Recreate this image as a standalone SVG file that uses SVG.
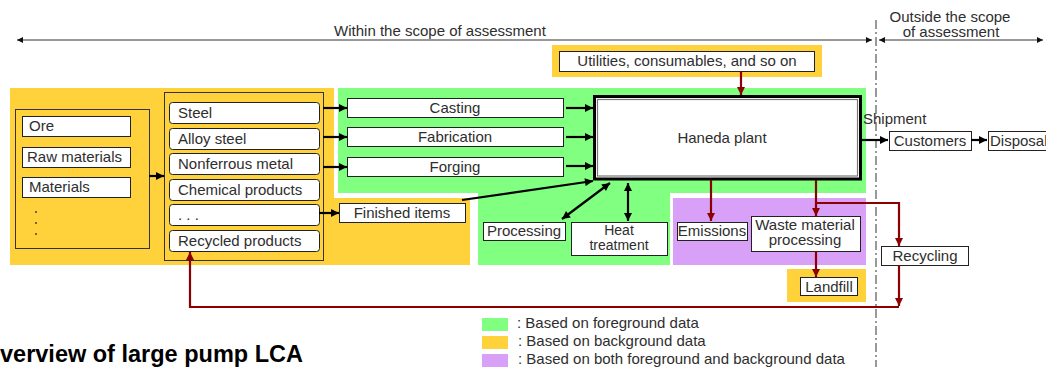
<svg xmlns="http://www.w3.org/2000/svg" width="1046" height="367" viewBox="0 0 1046 367">
  <style>
    text { font-family: "Liberation Sans", Arial, sans-serif; font-size: 15px; fill: #2e2e2e; }
    .c { text-anchor: middle; }
    .sm { font-size: 14px; }
    .box { fill: #fff; stroke: #222; stroke-width: 1; }
    .frame { fill: none; stroke: #333; stroke-width: 1; }
    .blk { fill: none; stroke: #000; stroke-width: 2.2; }
    .red { fill: none; stroke: #8b0000; stroke-width: 2.2; }
    .scope { fill: none; stroke: #333; stroke-width: 1; }
    .title { font-weight: bold; font-size: 23.5px; fill: #000; }
  </style>
  <defs>
    <marker id="ab" viewBox="0 0 10 10" refX="10" refY="5" markerWidth="9" markerHeight="8" markerUnits="userSpaceOnUse" orient="auto-start-reverse">
      <path d="M0,0 L10,5 L0,10 z" fill="#000"/>
    </marker>
    <marker id="ar" viewBox="0 0 10 10" refX="10" refY="5" markerWidth="9" markerHeight="8" markerUnits="userSpaceOnUse" orient="auto-start-reverse">
      <path d="M0,0 L10,5 L0,10 z" fill="#8b0000"/>
    </marker>
    <marker id="as" viewBox="0 0 10 10" refX="10" refY="5" markerWidth="8" markerHeight="6" markerUnits="userSpaceOnUse" orient="auto-start-reverse">
      <path d="M0,0 L10,5 L0,10 z" fill="#111"/>
    </marker>
  </defs>

  <!-- data-source regions -->
  <g id="regions">
    <polygon points="338,88 866,88 866,193 670,193 670,265 478,265 478,193 338,193" fill="#80ff80"/>
    <polygon points="10,88 334,88 334,198 470,198 470,265 10,265" fill="#ffd23c"/>
    <rect x="673" y="198" width="193" height="67" fill="#d9a0f8"/>
    <rect x="787" y="269" width="79" height="33" fill="#ffd23c"/>
    <rect x="552" y="45" width="270" height="32" fill="#ffd23c"/>
  </g>

  <!-- scope of assessment -->
  <g id="scope">
    <path class="scope" d="M17,40 H872" marker-start="url(#as)" marker-end="url(#as)"/>
    <path class="scope" d="M879,40 H1043" marker-start="url(#as)" marker-end="url(#as)"/>
    <path d="M876,20 V367" fill="none" stroke="#333" stroke-width="1" stroke-dasharray="9 3 2 3"/>
    <text class="c" x="440" y="36">Within the scope of assessment</text>
    <text class="c" x="950" y="22">Outside the scope</text>
    <text class="c" x="951" y="37">of assessment</text>
  </g>

  <!-- raw inputs -->
  <g id="raw-inputs">
    <rect class="frame" x="15.5" y="109.5" width="134" height="139"/>
    <rect class="box" x="22.5" y="116.5" width="108" height="20"/>
    <text x="29" y="131">Ore</text>
    <rect class="box" x="22.5" y="147.5" width="108" height="20"/>
    <text x="27" y="162">Raw materials</text>
    <rect class="box" x="22.5" y="177.5" width="108" height="20"/>
    <text x="29" y="192">Materials</text>
    <circle cx="36" cy="212" r="0.9" fill="#333"/>
    <circle cx="36" cy="223" r="0.9" fill="#333"/>
    <circle cx="36" cy="234" r="0.9" fill="#333"/>
  </g>

  <!-- purchased materials -->
  <g id="materials">
    <rect class="frame" x="164.5" y="92.5" width="159" height="168"/>
    <rect class="box" x="169.5" y="102.5" width="150" height="21" rx="3"/>
    <text x="178" y="118">Steel</text>
    <rect class="box" x="169.5" y="128.5" width="150" height="21" rx="3"/>
    <text x="178" y="144">Alloy steel</text>
    <rect class="box" x="169.5" y="153.5" width="150" height="21" rx="3"/>
    <text x="178" y="169">Nonferrous metal</text>
    <rect class="box" x="169.5" y="179.5" width="150" height="21" rx="3"/>
    <text x="178" y="195">Chemical products</text>
    <rect class="box" x="169.5" y="204.5" width="150" height="21" rx="3"/>
    <text x="178" y="220">. . .</text>
    <rect class="box" x="169.5" y="230.5" width="150" height="21" rx="3"/>
    <text x="178" y="246">Recycled products</text>
  </g>

  <g id="casting">
    <rect class="box" x="347.5" y="98.5" width="216" height="19"/>
    <text class="c" x="455" y="113">Casting</text>
  </g>
  <g id="fabrication">
    <rect class="box" x="347.5" y="127.5" width="216" height="19"/>
    <text class="c" x="455" y="142">Fabrication</text>
  </g>
  <g id="forging">
    <rect class="box" x="347.5" y="157.5" width="216" height="19"/>
    <text class="c" x="455" y="172">Forging</text>
  </g>
  <g id="finished-items">
    <rect class="box" x="339.5" y="203.5" width="126" height="19"/>
    <text class="c" x="402" y="218">Finished items</text>
  </g>
  <g id="utilities">
    <rect class="box" x="559.5" y="51.5" width="255" height="20"/>
    <text class="c" x="687" y="66">Utilities, consumables, and so on</text>
  </g>

  <g id="haneda-plant">
    <rect x="594.5" y="96.5" width="266" height="82.5" fill="#fff" stroke="#000" stroke-width="3"/>
    <rect x="597.5" y="99.5" width="260" height="76.5" fill="none" stroke="#777" stroke-width="1.2"/>
    <text class="c" x="722" y="143">Haneda plant</text>
  </g>

  <g id="processing">
    <rect class="box" x="483.5" y="222.5" width="82" height="18"/>
    <text class="c" x="524" y="236">Processing</text>
  </g>
  <g id="heat-treatment">
    <rect class="box" x="571.5" y="222.5" width="96" height="33"/>
    <text class="c sm" x="619" y="235">Heat</text>
    <text class="c sm" x="619" y="250">treatment</text>
  </g>
  <g id="emissions">
    <rect class="box" x="677.5" y="222.5" width="70" height="18"/>
    <text class="c" x="712" y="236">Emissions</text>
  </g>
  <g id="waste-processing">
    <rect class="box" x="751.5" y="216.5" width="109" height="35"/>
    <text class="c" x="805" y="230">Waste material</text>
    <text class="c" x="805" y="245">processing</text>
  </g>
  <g id="landfill">
    <rect class="box" x="800.5" y="277.5" width="57" height="18"/>
    <text class="c" x="829" y="292">Landfill</text>
  </g>
  <g id="recycling">
    <rect class="box" x="881.5" y="246.5" width="87" height="19"/>
    <text class="c" x="925" y="261">Recycling</text>
  </g>
  <g id="customers">
    <rect class="box" x="889.5" y="131.5" width="82" height="19"/>
    <text class="c" x="930" y="146">Customers</text>
  </g>
  <g id="disposal">
    <rect class="box" x="988.5" y="131.5" width="64" height="19"/>
    <text x="990" y="146">Disposal</text>
  </g>
  <g id="shipment-label">
    <text x="863" y="124">Shipment</text>
  </g>

  <!-- connectors -->
  <g id="connectors">
    <path class="blk" d="M149,176 H164" marker-end="url(#ab)"/>
    <path class="blk" d="M323,108 H347" marker-end="url(#ab)"/>
    <path class="blk" d="M323,137 H347" marker-end="url(#ab)"/>
    <path class="blk" d="M323,167 H347" marker-end="url(#ab)"/>
    <path class="blk" d="M319,213 H339" marker-end="url(#ab)"/>
    <path class="blk" d="M566,108 H593" marker-end="url(#ab)"/>
    <path class="blk" d="M566,137 H593" marker-end="url(#ab)"/>
    <path class="blk" d="M566,166 H593" marker-end="url(#ab)"/>
    <path class="blk" d="M462,200 L593,181" marker-end="url(#ab)"/>
    <path class="blk" d="M562,219 L610,183" marker-start="url(#ab)" marker-end="url(#ab)"/>
    <path class="blk" d="M628,183 V221" marker-start="url(#ab)" marker-end="url(#ab)"/>
    <path class="blk" d="M862,140 H888" marker-end="url(#ab)"/>
    <path class="blk" d="M971,140 H987" marker-end="url(#ab)"/>

    <path class="red" d="M741,71 V95" marker-end="url(#ar)"/>
    <path class="red" d="M711,180 V221" marker-end="url(#ar)"/>
    <path class="red" d="M816,180 V216" marker-end="url(#ar)"/>
    <path class="red" d="M816,203 H899 V246" marker-end="url(#ar)"/>
    <path class="red" d="M816,251 V277" marker-end="url(#ar)"/>
    <path class="red" d="M899,265 V306" marker-end="url(#ar)"/>
    <path class="red" d="M899,307 H190 V252" marker-end="url(#ar)"/>
  </g>

  <!-- legend -->
  <g id="legend">
    <rect x="482" y="318" width="26" height="13" fill="#80ff80"/>
    <text x="517" y="328">: Based on foreground data</text>
    <rect x="482" y="336" width="26" height="13" fill="#ffd23c"/>
    <text x="518" y="346">: Based on background data</text>
    <rect x="482" y="354" width="26" height="13" fill="#d9a0f8"/>
    <text x="518" y="364">: Based on both foreground and background data</text>
  </g>

  <g id="caption">
    <text class="title" x="0" y="362">verview of large pump LCA</text>
  </g>
</svg>
